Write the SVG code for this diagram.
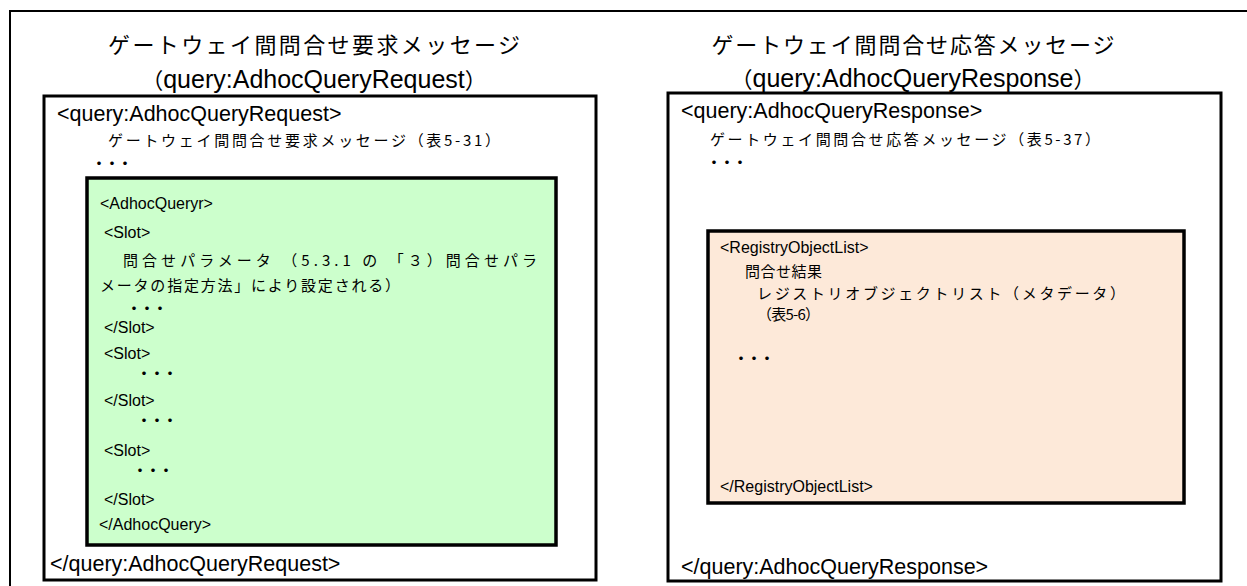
<svg xmlns="http://www.w3.org/2000/svg" width="1247" height="586" viewBox="0 0 1247 586">
<style>
.frame{fill:none;stroke:#000;stroke-width:2}
.box{fill:#fff;stroke:#000;stroke-width:3}
.green{fill:#CCFFCC;stroke:#000;stroke-width:3.5}
.peach{fill:#FDE9D9;stroke:#000;stroke-width:3.5}
.tag{font-family:"Liberation Sans",Arial,sans-serif;fill:#000}
.tagL{font-size:21.5px}
.tagS{font-size:16px}
.jp{font-family:"Noto Sans CJK JP","Noto Sans",sans-serif;fill:#000}
.jpT{font-size:22px}
.jpS{font-size:15px}
.dots{font-family:"Noto Sans CJK JP",sans-serif;font-size:14px;font-weight:bold;letter-spacing:-1px;fill:#000}
.title{text-anchor:middle}
</style>
<rect width="1247" height="586" fill="#fff"/>
<rect class="frame" x="10" y="11" width="1260" height="600"/>

<g id="request-title">
<text class="jp jpT title" x="314" y="53" textLength="412" lengthAdjust="spacing">ゲートウェイ間問合せ要求メッセージ</text>
<text class="title" x="314" y="88"><tspan class="jp jpT">（</tspan><tspan class="tag" font-size="25px">query:AdhocQueryRequest</tspan><tspan class="jp jpT">）</tspan></text>
</g>

<g id="response-title">
<text class="jp jpT title" x="913" y="53" textLength="403" lengthAdjust="spacing">ゲートウェイ間問合せ応答メッセージ</text>
<text class="title" x="913" y="87"><tspan class="jp jpT">（</tspan><tspan class="tag" font-size="25px">query:AdhocQueryResponse</tspan><tspan class="jp jpT">）</tspan></text>
</g>

<g id="request-message">
<rect class="box" x="44" y="96" width="552" height="484"/>
<text class="tag tagL" x="57" y="121">&lt;query:AdhocQueryRequest&gt;</text>
<text class="jp jpS" x="108" y="146" textLength="392" lengthAdjust="spacing">ゲートウェイ間問合せ要求メッセージ（表5-31）</text>
<text class="dots" x="92" y="168">・・・</text>
<text class="tag tagL" x="50" y="571">&lt;/query:AdhocQueryRequest&gt;</text>
</g>

<g id="adhoc-query">
<rect class="green" x="87" y="178" width="469" height="367"/>
<text class="tag tagS" x="100" y="209">&lt;AdhocQueryr&gt;</text>
<text class="tag tagS" x="104" y="238">&lt;Slot&gt;</text>
<text class="jp jpS" x="123" y="266" textLength="414" lengthAdjust="spacing">問合せパラメータ （5.3.1 の 「３）問合せパラ</text>
<text class="jp jpS" x="100" y="291" textLength="300" lengthAdjust="spacing">メータの指定方法」により設定される）</text>
<text class="dots" x="127" y="313">・・・</text>
<text class="tag tagS" x="104" y="333">&lt;/Slot&gt;</text>
<text class="tag tagS" x="104" y="359">&lt;Slot&gt;</text>
<text class="dots" x="137" y="378">・・・</text>
<text class="tag tagS" x="104" y="406">&lt;/Slot&gt;</text>
<text class="dots" x="137" y="425">・・・</text>
<text class="tag tagS" x="104" y="456">&lt;Slot&gt;</text>
<text class="dots" x="133" y="475">・・・</text>
<text class="tag tagS" x="104" y="505">&lt;/Slot&gt;</text>
<text class="tag tagS" x="99" y="530">&lt;/AdhocQuery&gt;</text>
</g>

<g id="response-message">
<rect class="box" x="668" y="93" width="553" height="488"/>
<text class="tag tagL" x="681" y="118">&lt;query:AdhocQueryResponse&gt;</text>
<text class="jp jpS" x="710" y="145" textLength="390" lengthAdjust="spacing">ゲートウェイ間問合せ応答メッセージ（表5-37）</text>
<text class="dots" x="707" y="167">・・・</text>
<text class="tag tagL" x="681" y="574">&lt;/query:AdhocQueryResponse&gt;</text>
</g>

<g id="registry-object-list">
<rect class="peach" x="708" y="231" width="476" height="272"/>
<text class="tag tagS" x="720" y="253">&lt;RegistryObjectList&gt;</text>
<text class="jp jpS" x="745" y="277" textLength="77" lengthAdjust="spacing">問合せ結果</text>
<text class="jp jpS" x="757" y="299" textLength="368" lengthAdjust="spacing">レジストリオブジェクトリスト（メタデータ）</text>
<text class="jp jpS" x="757" y="320" textLength="63" lengthAdjust="spacing">（表5-6）</text>
<text class="dots" x="734" y="363">・・・</text>
<text class="tag tagS" x="720" y="492">&lt;/RegistryObjectList&gt;</text>
</g>
</svg>
